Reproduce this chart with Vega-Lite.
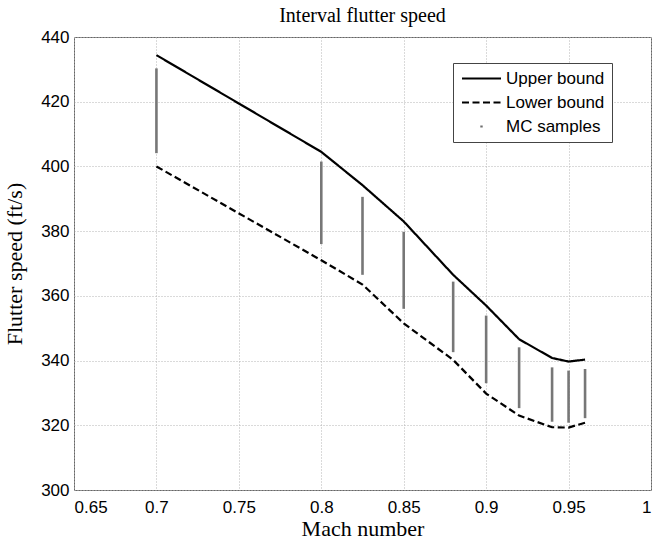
{
  "$schema": "https://vega.github.io/schema/vega-lite/v6.json",
  "width": 577,
  "height": 453,
  "autosize": {"type": "none"},
  "padding": {"left": 74, "top": 37, "right": 13, "bottom": 49},
  "background": "white",
  "title": {"text": "Interval flutter speed", "font": "Liberation Serif", "fontSize": 20, "fontWeight": "normal", "color": "#000", "offset": 2},
  "datasets": {
    "mc": [
      {"mach": 0.7, "lo": 404.1, "hi": 430.3},
      {"mach": 0.8, "lo": 376.0, "hi": 401.5},
      {"mach": 0.825, "lo": 366.5, "hi": 390.6},
      {"mach": 0.85, "lo": 356.0, "hi": 379.8},
      {"mach": 0.88, "lo": 342.6, "hi": 364.4},
      {"mach": 0.9, "lo": 333.0, "hi": 353.9},
      {"mach": 0.92, "lo": 325.3, "hi": 344.1},
      {"mach": 0.94, "lo": 321.1, "hi": 337.9},
      {"mach": 0.95, "lo": 320.8, "hi": 336.9},
      {"mach": 0.96, "lo": 322.2, "hi": 337.4}
    ],
    "bounds": [
      {"mach": 0.7, "series": "Upper bound", "v": 434.4},
      {"mach": 0.8, "series": "Upper bound", "v": 404.5},
      {"mach": 0.825, "series": "Upper bound", "v": 394.2},
      {"mach": 0.85, "series": "Upper bound", "v": 383.0},
      {"mach": 0.88, "series": "Upper bound", "v": 366.5},
      {"mach": 0.9, "series": "Upper bound", "v": 357.0},
      {"mach": 0.92, "series": "Upper bound", "v": 346.6},
      {"mach": 0.94, "series": "Upper bound", "v": 340.8},
      {"mach": 0.95, "series": "Upper bound", "v": 339.7},
      {"mach": 0.96, "series": "Upper bound", "v": 340.3},
      {"mach": 0.7, "series": "Lower bound", "v": 400.0},
      {"mach": 0.8, "series": "Lower bound", "v": 371.0},
      {"mach": 0.825, "series": "Lower bound", "v": 363.5},
      {"mach": 0.85, "series": "Lower bound", "v": 351.5},
      {"mach": 0.88, "series": "Lower bound", "v": 340.2},
      {"mach": 0.9, "series": "Lower bound", "v": 329.8},
      {"mach": 0.92, "series": "Lower bound", "v": 323.0},
      {"mach": 0.94, "series": "Lower bound", "v": 319.4},
      {"mach": 0.95, "series": "Lower bound", "v": 319.3},
      {"mach": 0.96, "series": "Lower bound", "v": 320.8}
    ]
  },
  "layer": [
    {
      "data": {"name": "mc"},
      "mark": {"type": "rule", "color": "#777777", "strokeWidth": 2.6},
      "encoding": {
        "x": {"field": "mach", "type": "quantitative", "scale": {"domain": [0.65, 1], "nice": false, "zero": false},
              "axis": {"title": "Mach number", "values": [0.65, 0.7, 0.75, 0.8, 0.85, 0.9, 0.95, 1], "format": ".2~f"}},
        "y": {"field": "lo", "type": "quantitative", "scale": {"domain": [300, 440], "nice": false, "zero": false},
              "axis": {"title": "Flutter speed (ft/s)", "values": [300, 320, 340, 360, 380, 400, 420, 440]}},
        "y2": {"field": "hi"}
      }
    },
    {
      "data": {"name": "bounds"},
      "mark": {"type": "line", "strokeWidth": 2.2},
      "encoding": {
        "x": {"field": "mach", "type": "quantitative", "axis": {"title": "Mach number", "values": [0.65, 0.7, 0.75, 0.8, 0.85, 0.9, 0.95, 1], "format": ".2~f"}},
        "y": {"field": "v", "type": "quantitative", "axis": {"title": "Flutter speed (ft/s)", "values": [300, 320, 340, 360, 380, 400, 420, 440]}},
        "color": {
          "field": "series", "type": "nominal",
          "scale": {"domain": ["Upper bound", "Lower bound", "MC samples"], "range": ["#000000", "#000000", "#6e6e6e"]},
          "legend": {"title": null, "orient": "none", "legendX": 379, "legendY": 26, "symbolType": "M-1,0H5", "symbolSize": 169, "symbolStrokeWidth": 2, "labelOffset": 29, "rowPadding": 6}
        },
        "strokeDash": {
          "field": "series", "type": "nominal",
          "scale": {"domain": ["Upper bound", "Lower bound", "MC samples"], "range": [[1, 0], [7, 3.5], [0, 18.3, 2.4, 100]]},
          "legend": {"title": null, "orient": "none", "legendX": 379, "legendY": 26, "symbolType": "M-1,0H5", "symbolSize": 169, "symbolStrokeWidth": 2, "labelOffset": 29, "rowPadding": 6}
        }
      }
    }
  ],
  "config": {
    "view": {"stroke": "#666666", "strokeWidth": 1},
    "axis": {
      "domain": false,
      "ticks": false,
      "tickSize": 0,
      "grid": true,
      "gridColor": "#b5b5b5",
      "gridDash": [1, 2],
      "gridWidth": 1,
      "labelFont": "Liberation Sans",
      "labelFontSize": 17,
      "labelColor": "#000000",
      "titleFont": "Liberation Serif",
      "titleFontSize": 22,
      "titleFontWeight": "normal",
      "titleColor": "#000000"
    },
    "axisX": {"labelPadding": 9, "titlePadding": 3},
    "axisY": {"labelPadding": 5, "titlePadding": 14},
    "legend": {
      "strokeColor": "#444444",
      "fillColor": "#ffffff",
      "padding": 7,
      "labelFont": "Liberation Sans",
      "labelFontSize": 17,
      "labelColor": "#000000"
    }
  }
}
